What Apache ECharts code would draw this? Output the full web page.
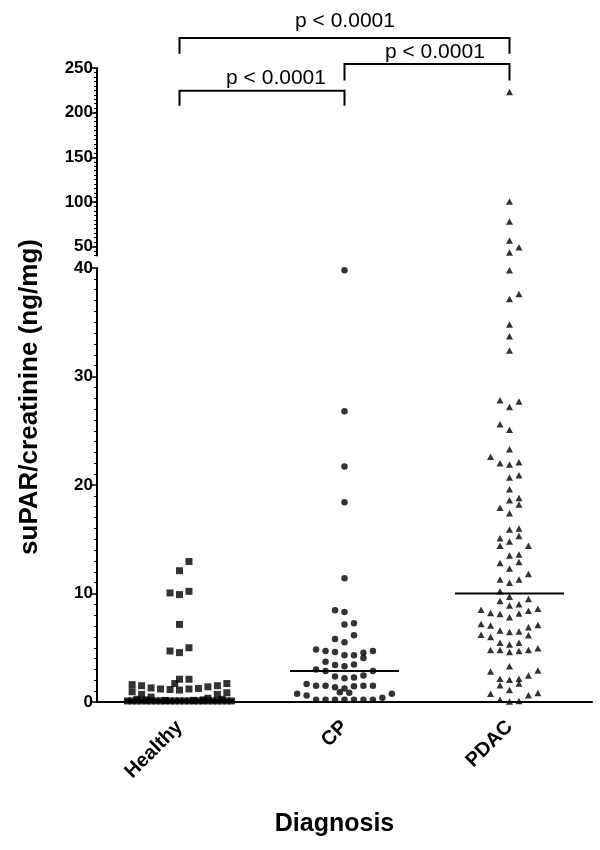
<!DOCTYPE html>
<html lang="en">
<head>
  <meta charset="utf-8">
  <script src="https://cdn.jsdelivr.net/npm/echarts@6/dist/echarts.min.js"></script>
</head>
<body style="margin: 0">
  <div id="main" style="width: 600px; height: 850px"></div>
  <script>
    // groups on the x axis
    var categories = ['Healthy', 'CP', 'PDAC'];

    // [column offset in the dot plot, suPAR/creatinine ng/mg]
    var healthy = [
      [1, 12.95], [0, 12.1],
      [-1, 10.05], [0, 9.9], [1, 10.2],
      [0, 7.15],
      [-1, 4.7], [0, 4.55], [1, 5.0],
      [0, 2.1], [1, 2.1], [-0.5, 1.7],
      [-5, 1.6], [-4, 1.5], [-3, 1.3], [-2, 1.2], [-1, 1.15], [0, 1.1], [1, 1.2], [2, 1.25], [3, 1.4], [4, 1.5], [5, 1.7],
      [-5, 0.95], [-4, 0.7], [-3, 0.45], [3, 0.35], [4, 0.7], [5, 0.85],
      [-5.5, 0.1], [-5, 0.1], [-4.5, 0.1], [-4, 0.1], [-3.5, 0.1], [-3, 0.1], [-2.5, 0.1], [-2, 0.1],
      [-1.5, 0.1], [-1, 0.1], [-0.5, 0.1], [0, 0.1], [0.5, 0.1], [1, 0.1], [1.5, 0.1], [2, 0.1],
      [2.5, 0.1], [3, 0.1], [3.5, 0.1], [4, 0.1], [4.5, 0.1], [5, 0.1], [5.5, 0.1],
      [-4.5, 0.25], [-3.5, 0.2], [2.5, 0.2], [4.5, 0.25], [-1.5, 0.15], [1.5, 0.15]
    ];

    var cp = [
      [0, 39.8], [0, 26.8], [0, 21.7], [0, 18.4], [0, 11.4],
      [-1, 8.45], [0, 8.3],
      [0, 7.15], [1, 7.25],
      [1, 6.15],
      [-1, 5.8], [0, 5.5],
      [-3, 4.85], [-2, 4.7], [-1, 4.6], [0, 4.3], [1, 4.3], [2, 4.55], [2, 4.05], [3, 4.7],
      [-2, 3.7], [-1, 3.4], [0, 3.3], [1, 3.45],
      [-3, 3.0], [-2, 2.85], [3, 2.85],
      [-1, 2.35], [0, 2.2], [1, 2.25], [2, 2.45],
      [-4, 1.65], [-3, 1.5], [-2, 1.5], [-1, 1.35], [0, 1.25], [1, 1.45], [2, 1.5], [3, 1.5],
      [-0.5, 0.9], [0.5, 0.85],
      [-5, 0.75], [-4, 0.6], [5, 0.75], [4, 0.4],
      [-3, 0.2], [-2, 0.2], [-1, 0.2], [0, 0.2], [1, 0.2], [2, 0.2], [3, 0.2]
    ];

    var pdac = [
      [0, 223], [0, 100.4], [0, 78], [0, 56.7], [1, 49.3], [0, 43.3],
      [0, 39.8],
      [0, 37.15], [1, 37.6],
      [0, 34.8], [0, 33.7], [0, 32.4],
      [-1, 27.8], [0, 27.2], [1, 27.7],
      [-1, 25.6], [0, 25.1],
      [0, 23.3],
      [-2, 22.6], [-1, 22.0], [0, 21.9], [1, 22.1],
      [0, 20.7], [1, 20.9],
      [0, 19.6],
      [0, 18.6], [1, 18.8], [1, 18.2],
      [-1, 17.9], [0, 17.4],
      [0, 15.9], [1, 16.0],
      [-1, 15.1], [0, 14.8], [1, 15.3],
      [-1, 14.4], [2, 14.4],
      [0, 13.5], [1, 13.6],
      [-1, 12.8], [0, 12.3], [1, 12.9],
      [2, 11.8],
      [-1, 11.3], [0, 11.0], [1, 11.3],
      [-1, 10.2],
      [-1, 9.3], [0, 9.7], [2, 9.5],
      [0, 8.9], [1, 9.0],
      [-3, 8.5], [-2, 8.2], [-1, 8.1], [0, 7.8], [1, 8.15], [2, 8.4], [3, 8.6],
      [-3, 7.2], [-2, 7.05], [-1, 6.6], [0, 6.45], [1, 6.5], [2, 6.9], [3, 7.1],
      [-3, 6.2], [-2, 6.0], [2, 6.15],
      [-1, 5.45], [0, 5.3], [1, 5.45],
      [-2, 4.8], [-1, 4.8], [0, 4.6], [1, 4.7], [2, 4.8], [3, 4.95],
      [0, 3.3],
      [-2, 2.8], [2, 2.45], [3, 2.9],
      [-1, 2.15], [0, 2.05], [1, 2.15],
      [-1, 1.55], [1, 1.7],
      [0, 1.1],
      [-2, 0.77], [2, 0.62], [3, 0.83],
      [-1, 0.2], [1, 0.1], [0, 0.05]
    ];

    var medians = [0.15, 2.85, 10.0];

    // pairs compared and their p values
    var comparisons = [[0, 1], [1, 2], [0, 2]];
    var pValues = ['p < 0.0001', 'p < 0.0001', 'p < 0.0001'];

    var breakValue = 40;
    var groups = [healthy, cp, pdac];
    var symbols = ['rect', 'circle', 'triangle'];
    var symbolSizes = [7, 6.5, [7, 6.5]];
    var SLOT = 0.0574; // horizontal step between dots, in category units
    var FONT = "'Liberation Sans', Arial, sans-serif";

    function pick(group, i, upper) {
      return group
        .filter(function (d) { return upper ? d[1] > breakValue : d[1] <= breakValue; })
        .map(function (d) { return [i + d[0] * SLOT, d[1]]; });
    }

    // where the brackets sit, in upper-axis units
    var bracketLevels = [
      { top: 224.5, leg: 207.7, tx: 0.585, ty: 239 },
      { top: 254.5, leg: 236.1, tx: 1.548, ty: 267.5 },
      { top: 283.6, leg: 266.0, tx: 1.003, ty: 302 }
    ];

    var dom = document.getElementById('main');
    var myChart = echarts.init(dom, null, { renderer: 'canvas' });

    var series = [];
    groups.forEach(function (g, i) {
      series.push({
        type: 'scatter', xAxisIndex: 2, yAxisIndex: 0,
        data: pick(g, i, true), symbol: symbols[i], symbolSize: symbolSizes[i],
        itemStyle: { color: '#000' }, silent: true
      });
      series.push({
        type: 'scatter', xAxisIndex: 1, yAxisIndex: 2,
        data: pick(g, i, false), symbol: symbols[i], symbolSize: symbolSizes[i],
        itemStyle: { color: '#000' }, silent: true
      });
    });

    // median lines
    series.push({
      type: 'custom', xAxisIndex: 1, yAxisIndex: 2, z: 5, silent: true,
      data: medians.map(function (m, i) { return [i, m]; }),
      renderItem: function (params, api) {
        var i = api.value(0), m = api.value(1);
        var a = api.coord([i - 0.33, m]), b = api.coord([i + 0.33, m]);
        return {
          type: 'line',
          shape: { x1: a[0], y1: a[1], x2: b[0], y2: b[1] },
          style: { stroke: '#000', lineWidth: 2 }
        };
      }
    });

    // significance brackets
    series.push({
      type: 'custom', xAxisIndex: 2, yAxisIndex: 0, clip: false, silent: true,
      data: comparisons.map(function (c, k) { return [c[0], c[1], k]; }),
      renderItem: function (params, api) {
        var a = api.value(0), b = api.value(1), k = api.value(2);
        var lv = bracketLevels[k];
        var p1 = api.coord([a, lv.leg]), p2 = api.coord([a, lv.top]);
        var p3 = api.coord([b, lv.top]), p4 = api.coord([b, lv.leg]);
        var t = api.coord([lv.tx, lv.ty]);
        return {
          type: 'group',
          children: [
            {
              type: 'polyline',
              shape: { points: [p1, p2, p3, p4] },
              style: { stroke: '#000', lineWidth: 2, fill: null }
            },
            {
              type: 'text', x: t[0], y: t[1],
              style: {
                text: pValues[k], fill: '#000', align: 'center', verticalAlign: 'middle',
                fontSize: 21, fontFamily: FONT
              }
            }
          ]
        };
      }
    });

    var left = 97, width = 495;
    var hiddenX = { type: 'value', min: -0.5, max: 2.5, show: false };

    var option = {
      animation: false,
      backgroundColor: '#fff',
      textStyle: { fontFamily: FONT },
      grid: [
        { left: left, width: width, top: 68, height: 187.5 },
        { left: left, width: width, top: 68, height: 187.5 },
        { left: left, width: width, top: 268, height: 434 }
      ],
      xAxis: [
        {
          type: 'category', gridIndex: 2, data: categories, position: 'bottom',
          axisLine: { lineStyle: { color: '#000', width: 2 } },
          axisTick: { alignWithLabel: true, length: 5, lineStyle: { color: '#000', width: 1.5 } },
          axisLabel: { rotate: 45, margin: 22, color: '#000', fontWeight: 'bold', fontSize: 20, fontFamily: FONT },
          name: 'Diagnosis', nameLocation: 'middle', nameGap: 110,
          nameTextStyle: {
            color: '#000', fontWeight: 'bold', fontSize: 25, fontFamily: FONT,
            verticalAlign: 'top', padding: [0, 20, 0, 0]
          }
        },
        Object.assign({ gridIndex: 2 }, hiddenX),
        Object.assign({ gridIndex: 0 }, hiddenX),
        Object.assign({ gridIndex: 1 }, hiddenX)
      ],
      yAxis: [
        {
          type: 'value', gridIndex: 0, min: 40, max: 250, interval: 5,
          axisLine: { show: true, onZero: false, lineStyle: { color: '#000', width: 2 } },
          axisTick: { show: true, length: 3, lineStyle: { color: '#000', width: 1 } },
          axisLabel: { show: false },
          splitLine: { show: false }
        },
        {
          type: 'value', gridIndex: 1, min: 40, max: 250,
          axisLine: { show: false, onZero: false },
          axisTick: { show: true, length: 5, customValues: [50, 100, 150, 200, 250], lineStyle: { color: '#000', width: 1.5 } },
          axisLabel: {
            customValues: [50, 100, 150, 200, 250], margin: 4,
            color: '#000', fontWeight: 'bold', fontSize: 17, fontFamily: FONT
          },
          splitLine: { show: false }
        },
        {
          type: 'value', gridIndex: 2, min: 0, max: 40, interval: 10,
          axisLine: { show: true, onZero: false, lineStyle: { color: '#000', width: 2 } },
          axisTick: { show: true, length: 5, lineStyle: { color: '#000', width: 1.5 } },
          minorTick: { show: true, splitNumber: 10, length: 3, lineStyle: { color: '#000', width: 1 } },
          axisLabel: { margin: 4, color: '#000', fontWeight: 'bold', fontSize: 17, fontFamily: FONT },
          splitLine: { show: false }
        }
      ],
      graphic: [
        {
          type: 'text', x: 30, y: 397, rotation: Math.PI / 2,
          style: {
            text: 'suPAR/creatinine (ng/mg)', fill: '#000', align: 'center', verticalAlign: 'middle',
            fontSize: 26, fontWeight: 'bold', fontFamily: FONT
          }
        }
      ],
      series: series
    };

    myChart.setOption(option);
    window.addEventListener('resize', myChart.resize);
  </script>
</body>
</html>
